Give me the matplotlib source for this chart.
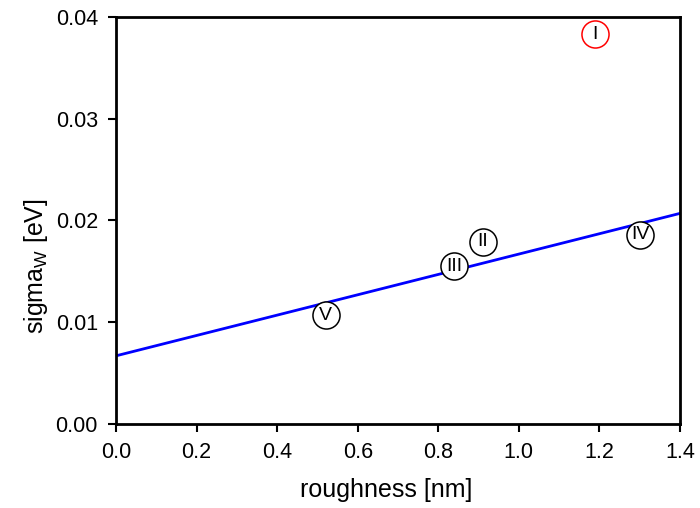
import matplotlib
matplotlib.use("Agg")
import matplotlib.pyplot as plt

plt.rcParams['font.family'] = ['Liberation Sans', 'DejaVu Sans']

labels = ["I", "II", "III", "IV", "V"]
roughness = [1.189, 0.911, 0.839, 1.301, 0.521]
sigma_w = [0.0383, 0.0179, 0.0155, 0.0186, 0.0107]
edge_colors = ["red", "black", "black", "black", "black"]

fit_x = [0.0, 1.4]
fit_y = [0.0067, 0.0207]

W, H = 700, 508
fig = plt.figure(figsize=(W / 100, H / 100), dpi=100)
ax = fig.add_axes([116 / W, 1 - 424 / H, 564 / W, 407 / H])

ax.plot(fit_x, fit_y, color="#0000ff", lw=2, zorder=2)
for x, y, lab, ec in zip(roughness, sigma_w, labels, edge_colors):
    ax.plot(x, y, marker='o', ms=19.5, mfc='white', mec=ec, mew=1.1, zorder=3, clip_on=False)
    ax.text(x, y, lab, ha='center', va='center', fontsize=14, zorder=4)

ax.set_xlim(0, 1.4)
ax.set_ylim(0, 0.04)
ax.set_xticks([0.0, 0.2, 0.4, 0.6, 0.8, 1.0, 1.2, 1.4])
ax.set_xticklabels(["0.0", "0.2", "0.4", "0.6", "0.8", "1.0", "1.2", "1.4"])
ax.set_yticks([0.0, 0.01, 0.02, 0.03, 0.04])
ax.set_yticklabels(["0.00", "0.01", "0.02", "0.03", "0.04"])
ax.tick_params(direction='out', length=6, width=1.5, labelsize=15.5)
ax.tick_params(axis='x', pad=7)
ax.tick_params(axis='y', pad=7)
for s in ax.spines.values():
    s.set_linewidth(2)

fig.text(300 / W, 1 - 497 / H, "roughness [nm]", fontsize=18,
         ha='left', va='baseline')
fig.text(43 / W, 1 - 198 / H, "sigma$_\\mathregular{W}$ [eV]", fontsize=18,
         rotation=90, rotation_mode='anchor', ha='right', va='baseline')

fig.savefig("out.png", dpi=100)
